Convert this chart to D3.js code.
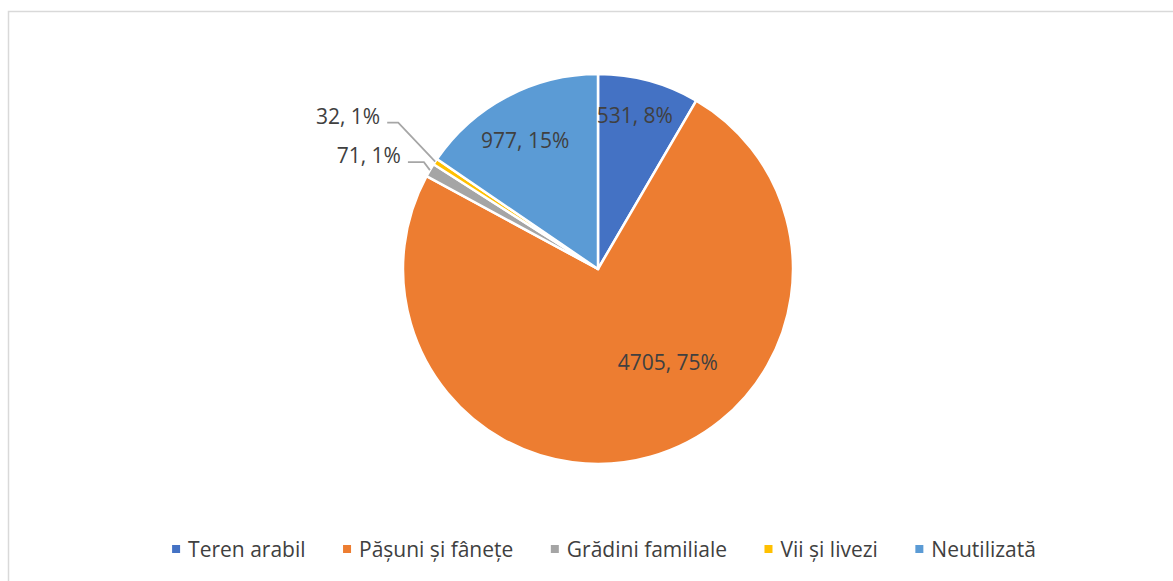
<!DOCTYPE html>
<html><head><meta charset="utf-8">
<script src="https://cdn.jsdelivr.net/npm/d3@7"></script>
<style>body{margin:0;background:#fff;} svg{display:block;}</style>
</head><body>
<svg id="c" width="1173" height="581"></svg>
<script>
const categories = ["Teren arabil", "Pășuni și fânețe", "Grădini familiale", "Vii și livezi", "Neutilizată"];
const values = [531, 4705, 71, 32, 977];
const percentLabels = ["8%", "75%", "1%", "1%", "15%"];
const colors = ["#4472C4", "#ED7D31", "#A5A5A5", "#FFC000", "#5B9BD5"];

const W = 1173, H = 581;
const svg = d3.select("#c");
const FONT = "'Open Sans', 'Liberation Sans', sans-serif";

// chart border
svg.append("rect").attr("x", 8.5).attr("y", 11.5).attr("width", W).attr("height", H)
  .attr("fill", "#fff").attr("stroke", "#d9d9d9").attr("stroke-width", 1.5);

const cx = 598, cy = 269, R = 195;
const g = svg.append("g").attr("transform", `translate(${cx},${cy})`);

const data = categories.map((c, i) => ({cat: c, value: values[i], pct: percentLabels[i], color: colors[i]}));
const pie = d3.pie().value(d => d.value).sort(null);
const arcs = pie(data);
const arc = d3.arc().innerRadius(0).outerRadius(R);

g.selectAll("path.slice").data(arcs).enter().append("path")
  .attr("class", "slice")
  .attr("d", arc)
  .attr("fill", d => d.data.color)
  .attr("stroke", "#fff").attr("stroke-width", 2.5).attr("stroke-linejoin", "round");

const LFS = 21;
const labelCfg = [
  {mode: "in", r: 0.80, da: -1.5, dy: -2},
  {mode: "in", r: 0.60, da: -21, dy: -1},
  {mode: "out", dx: -6, dy: -8, hl: 16},
  {mode: "out", dx: -37, dy: -39, hl: 11},
  {mode: "in", r: 0.75, da: -2, dy: -2}
];
const deg = Math.PI / 180;
arcs.forEach((a, i) => {
  const cfg = labelCfg[i];
  const mid = (a.startAngle + a.endAngle) / 2;
  const txt = `${a.data.value}, ${a.data.pct}`;
  if (cfg.mode === "in") {
    const ang = mid + cfg.da * deg;
    const x = Math.sin(ang) * R * cfg.r, y = -Math.cos(ang) * R * cfg.r + cfg.dy;
    g.append("text").attr("x", x).attr("y", y).attr("text-anchor", "middle")
      .attr("dominant-baseline", "central")
      .attr("font-family", FONT).attr("font-size", LFS).attr("fill", "#404040").text(txt);
  } else {
    const ox = Math.sin(mid) * R, oy = -Math.cos(mid) * R;
    const ex = ox + cfg.dx, ey = oy + cfg.dy;
    const hx = ex - cfg.hl;
    g.append("polyline").attr("points", `${ox},${oy} ${ex},${ey} ${hx},${ey}`)
      .attr("fill", "none").attr("stroke", "#a6a6a6").attr("stroke-width", 1.75);
    g.append("text").attr("x", hx - 7).attr("y", ey - 7).attr("text-anchor", "end")
      .attr("dominant-baseline", "central")
      .attr("font-family", FONT).attr("font-size", LFS).attr("fill", "#404040").text(txt);
  }
});

// legend
const lg = svg.append("g");
const items = lg.selectAll("g.item").data(data).enter().append("g").attr("class", "item");
items.append("rect").attr("width", 8).attr("height", 8).attr("y", -4).attr("fill", d => d.color);
items.append("text").attr("x", 16).attr("dominant-baseline", "central")
  .attr("font-family", FONT).attr("font-size", 21).attr("fill", "#404040").text(d => d.cat);
let xs = 0;
const gap = 37.5;
items.each(function() {
  const node = d3.select(this);
  node.attr("transform", `translate(${xs},0)`);
  xs += 16 + node.select("text").node().getComputedTextLength() + gap;
});
const totalW = xs - gap;
lg.attr("transform", `translate(${604 - totalW / 2},${549})`);
</script>
</body></html>
